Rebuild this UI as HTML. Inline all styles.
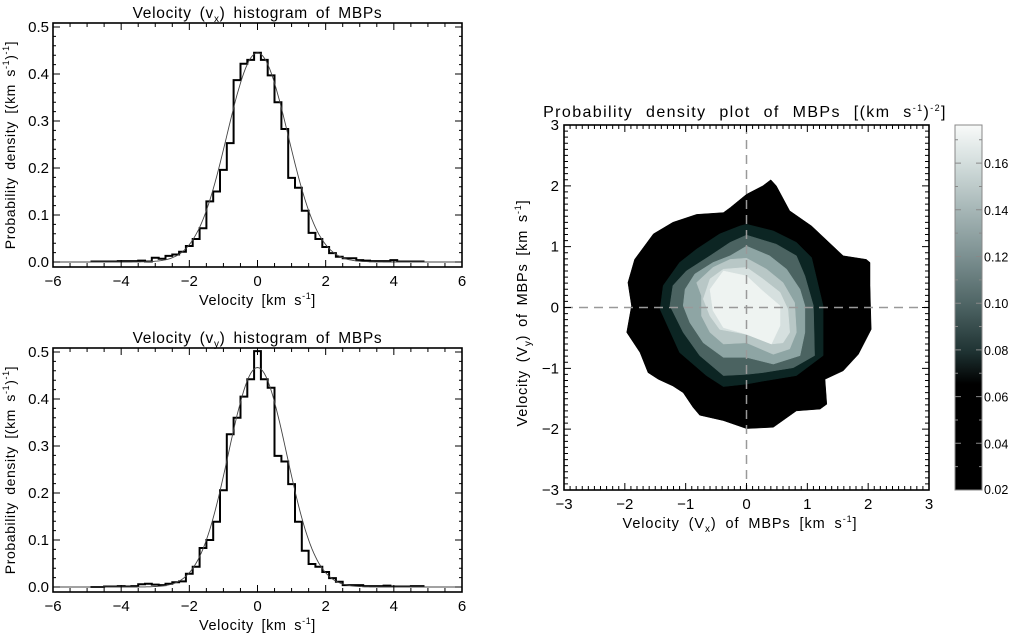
<!DOCTYPE html>
<html><head><meta charset="utf-8">
<style>
html,body{margin:0;padding:0;background:#fff;}
svg{display:block;font-family:"Liberation Sans",Helvetica,Arial,sans-serif;}
text{fill:#000;}
.ax{letter-spacing:0.6px;word-spacing:3px;}
.ti{letter-spacing:0.7px;word-spacing:3px;}
</style></head>
<body>
<svg id="fig" width="1012" height="636" viewBox="0 0 1012 636" xmlns="http://www.w3.org/2000/svg">
<defs>
<linearGradient id="cmap" x1="0" y1="1" x2="0" y2="0">
<stop offset="0" stop-color="#000"/>
<stop offset="0.29" stop-color="#000"/>
<stop offset="0.38" stop-color="#1f3333"/>
<stop offset="0.51" stop-color="#4f6565"/>
<stop offset="0.64" stop-color="#7c9091"/>
<stop offset="0.77" stop-color="#a7b7b7"/>
<stop offset="0.90" stop-color="#d5dfde"/>
<stop offset="1" stop-color="#f8faf9"/>
</linearGradient>
</defs>
</svg>
<script>
// ---------- data ----------
const vxCenters = [-4.8,-4.6,-4.4,-4.2,-4.0,-3.8,-3.6,-3.4,-3.2,-3.0,-2.8,-2.6,-2.4,-2.2,-2.0,-1.8,-1.6,-1.4,-1.2,-1.0,-0.8,-0.6,-0.4,-0.2,0.0,0.2,0.4,0.6,0.8,1.0,1.2,1.4,1.6,1.8,2.0,2.2,2.4,2.6,2.8,3.0,3.2,3.4,3.6,3.8,4.0,4.2,4.4,4.6,4.8];
const vxValues  = [0.001,0.001,0.001,0.001,0.002,0.002,0.002,0.003,0.001,0.009,0.007,0.013,0.016,0.022,0.034,0.049,0.072,0.129,0.150,0.196,0.253,0.387,0.422,0.430,0.445,0.430,0.397,0.340,0.283,0.179,0.158,0.109,0.062,0.049,0.032,0.019,0.011,0.008,0.008,0.004,0.003,0.002,0.002,0.002,0.004,0.001,0.001,0.001,0.001];
const vxFit = [0.445, 0.0, 0.896]; // amplitude, mean, sigma

const vyCenters = [-4.8,-4.6,-4.4,-4.2,-4.0,-3.8,-3.6,-3.4,-3.2,-3.0,-2.8,-2.6,-2.4,-2.2,-2.0,-1.8,-1.6,-1.4,-1.2,-1.0,-0.8,-0.6,-0.4,-0.2,0.0,0.2,0.4,0.6,0.8,1.0,1.2,1.4,1.6,1.8,2.0,2.2,2.4,2.6,2.8,3.0,3.2,3.4,3.6,3.8,4.0,4.2,4.4,4.6,4.8];
const vyValues  = [0.000,0.000,0.001,0.001,0.002,0.001,0.002,0.006,0.007,0.005,0.004,0.007,0.010,0.012,0.028,0.043,0.083,0.100,0.139,0.206,0.325,0.360,0.405,0.442,0.502,0.442,0.424,0.279,0.267,0.219,0.139,0.077,0.049,0.043,0.032,0.019,0.011,0.004,0.004,0.004,0.002,0.002,0.002,0.003,0.001,0.001,0.001,0.002,0.002];
const vyFit = [0.467, 0.0, 0.855];

const contourColors = ["#000000","#0c2523","#4b6361","#8ea5a4","#b8c7c6","#d6e0df","#eef3f1"];
const contourL1 = [[0.40,2.10],[0.49,2.00],[0.71,1.59],[1.07,1.34],[1.59,0.85],[1.97,0.79],[2.03,0.74],[2.03,0.36],[2.05,-0.36],[1.84,-0.77],[1.59,-1.04],[1.29,-1.18],[1.32,-1.59],[1.21,-1.67],[0.82,-1.70],[0.44,-1.97],[0,-1.99],[-0.38,-1.86],[-0.77,-1.77],[-0.88,-1.64],[-1.04,-1.40],[-1.21,-1.29],[-1.45,-1.18],[-1.62,-1.07],[-1.75,-0.74],[-1.97,-0.41],[-1.89,0.03],[-1.95,0.41],[-1.84,0.79],[-1.53,1.21],[-1.21,1.40],[-0.82,1.53],[-0.38,1.56],[-0.27,1.64],[0,1.86],[0.27,2.00]];
const contourL2 = [[0,1.37],[0.44,1.26],[0.82,1.07],[1.07,0.82],[1.26,0.03],[1.26,-0.79],[0.82,-1.12],[0.27,-1.21],[0,-1.26],[-0.38,-1.30],[-0.66,-1.12],[-1.10,-0.74],[-1.42,-0.03],[-1.37,0.36],[-1.10,0.74],[-0.82,0.96],[-0.44,1.21],[-0.11,1.34]];
const contourL3 = [[0,1.19],[0.49,1.04],[0.82,0.85],[0.96,0.52],[1.10,0.03],[1.12,-0.79],[0.77,-0.99],[0.27,-1.07],[0,-1.10],[-0.38,-1.12],[-0.77,-0.79],[-1.04,-0.41],[-1.26,0.03],[-1.21,0.36],[-0.99,0.60],[-0.60,0.85],[-0.27,1.07]];
const contourL4 = [[0,1.01],[0.38,0.85],[0.66,0.63],[0.88,0.30],[0.96,0.03],[0.96,-0.41],[0.88,-0.79],[0.44,-0.93],[0,-0.82],[-0.38,-0.82],[-0.71,-0.58],[-0.93,-0.25],[-1.04,0.03],[-1.01,0.30],[-0.85,0.55],[-0.55,0.74],[-0.27,0.85]];
const contourL5 = [[0,0.81],[0.33,0.63],[0.60,0.41],[0.79,0.08],[0.82,-0.41],[0.71,-0.68],[0.44,-0.77],[0,-0.58],[-0.38,-0.60],[-0.60,-0.41],[-0.74,-0.14],[-0.74,0.19],[-0.82,0.41],[-0.55,0.66],[-0.27,0.79]];
const contourL6 = [[0,0.66],[0.27,0.47],[0.55,0.25],[0.68,-0.03],[0.71,-0.41],[0.60,-0.58],[0.41,-0.60],[0,-0.44],[-0.44,-0.36],[-0.60,-0.14],[-0.71,0.14],[-0.60,0.47],[-0.38,0.63]];
const contourL7 = [[-0.38,0.60],[0,0.52],[0.27,0.27],[0.55,0.03],[0.55,-0.30],[0.41,-0.60],[0,-0.44],[-0.38,-0.33],[-0.55,-0.05],[-0.60,0.30]];

const histXTicks = [-6,-4,-2,0,2,4,6];
const histYTicks = [0.0,0.1,0.2,0.3,0.4,0.5];
const pdfTicks = [-3,-2,-1,0,1,2,3];
const cbarTicks = [0.02,0.04,0.06,0.08,0.10,0.12,0.14,0.16];

// ---------- helpers ----------
const NS="http://www.w3.org/2000/svg";
const svg=document.getElementById('fig');
function el(tag,attrs,parent){const e=document.createElementNS(NS,tag);for(const k in attrs)e.setAttribute(k,attrs[k]);(parent||svg).appendChild(e);return e;}
function lin(d0,d1,r0,r1){return v=>r0+(v-d0)*(r1-r0)/(d1-d0);}
function fmt1(v){return v.toFixed(1).replace('-','\u2212');}
function fmtI(v){return String(v).replace('-','\u2212');}

function histPanel(name,box,centers,values,fit,sub){
  const g=el('g',{});
  
  
  const X=lin(-6,6,box.l,box.r), Y=lin(0,0.5,box.y0,box.y5);
  const w=0.2; let d='';
  centers.forEach((c,i)=>{const x0=X(c-w/2),x1=X(c+w/2),y=Y(values[i]);d+=(i?'L':'M')+x0.toFixed(1)+' '+y.toFixed(1)+'L'+x1.toFixed(1)+' '+y.toFixed(1);});
  const h=el('path',{d:d,fill:'none',stroke:'#000','stroke-width':2},g);
  
  
  let fd='';
  for(let v=-6;v<=6.0001;v+=0.05){const y=fit[0]*Math.exp(-0.5*Math.pow((v-fit[1])/fit[2],2));fd+=(v===-6?'M':'L')+X(v).toFixed(1)+' '+Y(y).toFixed(1);}
  const f=el('path',{d:fd,fill:'none',stroke:'#444','stroke-width':0.9},g);
  
  
  const fr=el('rect',{x:box.l,y:box.t,width:box.r-box.l,height:box.b-box.t,fill:'none',stroke:'#000','stroke-width':1.6},g);
  
  
  let td='';
  for(let v=-6;v<=6.001;v+=0.5){const x=X(v);const L=(Math.abs(v%2)<1e-6)?7:4;td+=`M${x} ${box.b}v${-L}M${x} ${box.t}v${L}`;}
  for(let v=0;v<=0.5001;v+=0.02){const y=Y(v);const L=(Math.abs(Math.round(v*100)%10)<1e-6)?7:3;td+=`M${box.l} ${y}h${L}M${box.r} ${y}h${-L}`;}
  el('path',{d:td,stroke:'#000','stroke-width':1,fill:'none'},g);
  histXTicks.forEach(v=>{const t=el('text',{x:X(v),y:box.b+19,'text-anchor':'middle','font-size':15},g);t.textContent=fmtI(v);});
  histYTicks.forEach(v=>{const t=el('text',{x:box.l-4,y:Y(v)+5,'text-anchor':'end','font-size':15},g);t.textContent=fmt1(v);});
  const tt=el('text',{x:(box.l+box.r)/2,y:box.t-5,'text-anchor':'middle','font-size':15.5,'class':'ti'},g);
  tt.innerHTML='Velocity (v<tspan font-size="10" dy="4">'+sub+'</tspan><tspan dy="-4">) histogram of MBPs</tspan>';
  
  const xl=el('text',{x:(box.l+box.r)/2,y:box.b+38,'text-anchor':'middle','font-size':14.5,'class':'ax'},g);
  xl.innerHTML='Velocity [km s<tspan font-size="9" dy="-6">-1</tspan><tspan dy="6">]</tspan>';
  
  const cy=(box.t+box.b)/2;
  const yl=el('text',{x:0,y:0,'text-anchor':'middle','font-size':14,'class':'ax',transform:`translate(15 ${cy}) rotate(-90)`},g);
  yl.innerHTML='Probability density [(km s<tspan font-size="9" dy="-6">-1</tspan><tspan dy="6">)</tspan><tspan font-size="9" dy="-6">-1</tspan><tspan dy="6">]</tspan>';
  
}

histPanel('vx-histogram',{l:53,r:462,t:23,b:267,y0:262,y5:27},vxCenters,vxValues,vxFit,'x');
histPanel('vy-histogram',{l:53,r:462,t:348,b:592,y0:587,y5:352},vyCenters,vyValues,vyFit,'y');

// ---------- density plot ----------
(function(){
  const box={l:564,r:929,t:125,b:490};
  const g=el('g',{});
  
  
  const X=lin(-3,3,box.l,box.r), Y=lin(-3,3,box.b,box.t);
  [contourL1,contourL2,contourL3,contourL4,contourL5,contourL6,contourL7].forEach((poly,i)=>{
    const p=el('polygon',{points:poly.map(q=>X(q[0]).toFixed(1)+','+Y(q[1]).toFixed(1)).join(' '),fill:contourColors[i],stroke:contourColors[i],'stroke-width':0.5},g);
    
    
  });
  const dl=el('path',{d:`M${box.l} ${Y(0)}H${box.r}M${X(0)} ${box.t}V${box.b}`,stroke:'#999','stroke-width':1.5,'stroke-dasharray':'9 6',fill:'none'},g);
  
  const fr=el('rect',{x:box.l,y:box.t,width:box.r-box.l,height:box.b-box.t,fill:'none',stroke:'#000','stroke-width':1.6},g);
  
  let td='';
  for(let k=-30;k<=30;k++){const v=k/10;const L=(k%10===0)?7:4;const x=X(v),y=Y(v);
    td+=`M${x} ${box.b}v${-L}M${x} ${box.t}v${L}M${box.l} ${y}h${L}M${box.r} ${y}h${-L}`;}
  el('path',{d:td,stroke:'#000','stroke-width':1,fill:'none'},g);
  pdfTicks.forEach(v=>{
    const t=el('text',{x:X(v),y:box.b+19,'text-anchor':'middle','font-size':15},g);t.textContent=fmtI(v);
    
    const u=el('text',{x:box.l-5,y:Y(v)+5,'text-anchor':'end','font-size':15},g);u.textContent=fmtI(v);
    
  });
  const tt=el('text',{x:745,y:117,'text-anchor':'middle','font-size':16,style:'letter-spacing:1.4px;word-spacing:7px'},g);
  tt.innerHTML='Probability density plot of MBPs [(km s<tspan font-size="9" dy="-6">-1</tspan><tspan dy="6">)</tspan><tspan font-size="9" dy="-6">-2</tspan><tspan dy="6">]</tspan>';
  
  const xl=el('text',{x:740,y:528,'text-anchor':'middle','font-size':14.5,style:'letter-spacing:0.9px;word-spacing:4px'},g);
  xl.innerHTML='Velocity (V<tspan font-size="10" dy="4">x</tspan><tspan dy="-4">) of MBPs [km s</tspan><tspan font-size="9" dy="-6">-1</tspan><tspan dy="6">]</tspan>';
  
  const yl=el('text',{x:0,y:0,'text-anchor':'middle','font-size':14.5,style:'letter-spacing:0.8px;word-spacing:3px',transform:`translate(527 313) rotate(-90)`},g);
  yl.innerHTML='Velocity (V<tspan font-size="10" dy="4">y</tspan><tspan dy="-4">) of MBPs [km s</tspan><tspan font-size="9" dy="-6">-1</tspan><tspan dy="6">]</tspan>';
  
})();

// ---------- colorbar ----------
(function(){
  const box={l:955,r:982,t:125,b:490};
  const g=el('g',{});
  
  
  const Y=v=>box.b-(v-0.02)*46.7/0.02;
  const r=el('rect',{x:box.l,y:box.t,width:box.r-box.l,height:box.b-box.t,fill:'url(#cmap)',stroke:'#888','stroke-width':1},g);
  
  let td='';
  for(let k=2;k<=17;k++){const y=Y(k/100);if(y<box.t)continue;const L=(k%2===0)?6:3;td+=`M${box.l} ${y}h${L}M${box.r} ${y}h${-L}`;}
  el('path',{d:td,stroke:'#888','stroke-width':1,fill:'none'},g);
  cbarTicks.forEach(v=>{const t=el('text',{x:984,y:Math.min(Y(v)+5,494),'font-size':12.5,fill:'#333'},g);t.textContent=v.toFixed(2);
    });
})();
</script>
</body></html>
